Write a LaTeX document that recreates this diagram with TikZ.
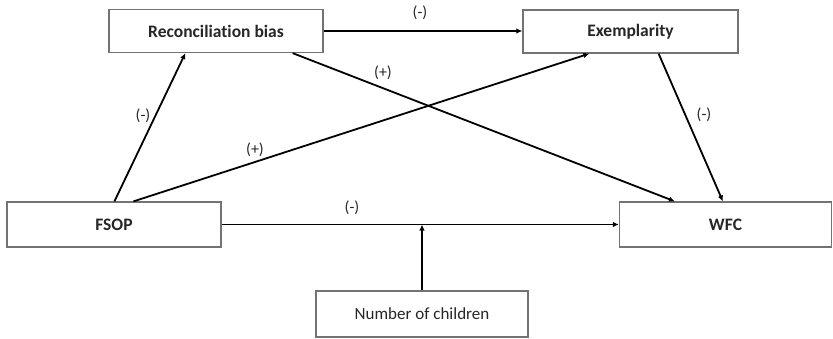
\documentclass[tikz,border=0pt]{standalone}
\usepackage{fontspec}
\setmainfont{Carlito}[Ligatures=NoCommon]
\usetikzlibrary{arrows.meta}
\begin{document}
\begin{tikzpicture}[x=1pt,y=-1pt,
  box/.style={draw=black!55,line width=1.2pt,rectangle,inner sep=0pt,minimum width=#1,font=\fontsize{17.5}{20}\selectfont\bfseries,text=black!85},
  link/.style={line width=1.8pt,-{Latex[length=6pt,width=5.5pt]}},
  lbl/.style={font=\fontsize{16}{18}\selectfont,inner sep=1pt,text=black!85}]
\useasboundingbox (0,0) rectangle (833,338);
\fill[white] (0,0) rectangle (833,338);
\node[box=214pt,minimum height=43pt] (recon) at (216,31) {Reconciliation bias};
\node[box=215pt,minimum height=43pt] (exem) at (630.5,31.5) {Exemplarity};
\node[box=214pt,minimum height=45pt] (fsop) at (114,224.5) {FSOP};
\node[box=212pt,minimum height=45pt] (wfc) at (725.5,224.5) {WFC};
\node[box=212pt,minimum height=46pt,font=\fontsize{17}{20}\selectfont] (num) at (422,314) {Number of children};
\coordinate (mod) at (num.north |- fsop.east);
\draw[link] (recon.east) -- (recon.east -| exem.west);
\draw[link] ([xshift=108pt]fsop.north west) -- ([xshift=77pt]recon.south west);
\draw[link] ([xshift=127pt]fsop.north west) -- ([xshift=67pt]exem.south west);
\draw[link] ([xshift=-31pt]recon.south east) -- ([xshift=56pt]wfc.north west);
\draw[link] ([xshift=-80pt]exem.south east) -- ([xshift=104pt]wfc.north west);
\draw[link] (fsop.east) -- (wfc.west);
\draw[link] (num.north) -- (mod);
\node[lbl] (l1) at (420,13) {(-)};
\node[lbl] (l2) at (143,116) {(-)};
\node[lbl] (l3) at (255,150) {(+)};
\node[lbl] (l4) at (383,73) {(+)};
\node[lbl] (l5) at (704,115) {(-)};
\node[lbl] (l6) at (352,208) {(-)};
\end{tikzpicture}
\end{document}
